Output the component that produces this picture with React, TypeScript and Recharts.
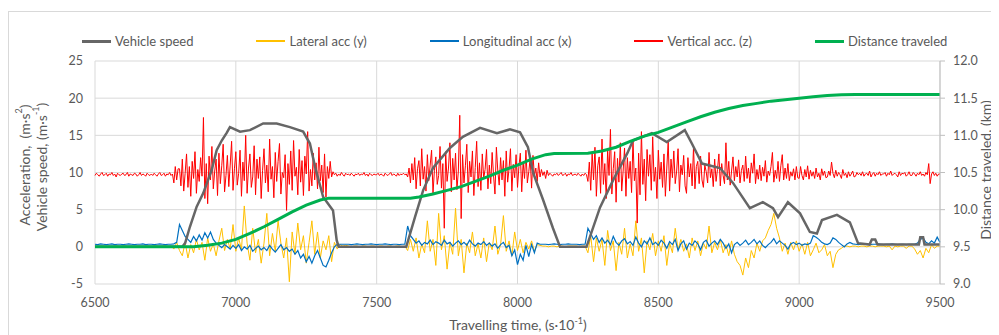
import { CartesianGrid, ComposedChart, Line, XAxis, YAxis } from 'recharts';

// Sensor log: speed, 3-axis acceleration and cumulative distance over time.

const TIME_TICKS = [6500, 7000, 7500, 8000, 8500, 9000, 9500];
const ACC_TICKS = [-5, 0, 5, 10, 15, 20, 25];
const DIST_TICKS = [9, 9.5, 10, 10.5, 11, 11.5, 12];

// all sampled series start at 6500; vertical acc is logged every 5 units,
// lateral / longitudinal every 10
const SAMPLE_START = 6500;

// [time, m/s]
const vehicleSpeed: [number, number][] = [
  [6500, 0], [6810, 0], [6820, 0.5], [6837, 2.7], [6861, 5.4], [6884, 7.2], [6914, 10.3],
  [6932, 13], [6950, 14.3], [6967, 15.3], [6979, 16.1], [7015, 15.5], [7050, 15.7], [7097, 16.6],
  [7145, 16.6], [7192, 16.1], [7239, 15.5], [7263, 13.9], [7281, 10.8], [7310, 6.7], [7345, 4.9],
  [7358, 0.9], [7365, 0], [7605, 0], [7636, 4], [7665, 7.6], [7700, 10.6], [7760, 13.3],
  [7806, 14.8], [7867, 16], [7927, 15.3], [7973, 15.8], [8009, 15.4], [8037, 13.4], [8056, 9.9],
  [8091, 6.3], [8126, 2.5], [8151, 0], [8245, 0], [8293, 5.3], [8340, 9.0], [8390, 12.6],
  [8410, 14.3], [8477, 15.3], [8530, 14.1], [8594, 15.7], [8619, 13.9], [8655, 11.2], [8719, 10.6],
  [8765, 8.6], [8825, 5.2], [8871, 6.0], [8907, 5.2], [8925, 4.0], [8960, 6.0], [9003, 4.5],
  [9038, 2.0], [9063, 1.8], [9081, 3.6], [9134, 4.3], [9180, 3.3], [9209, 0.5], [9250, 0.3],
  [9258, 1.0], [9270, 1.0], [9278, 0.3], [9425, 0.3], [9430, 1.3], [9440, 1.3], [9445, 0.3],
  [9500, 0.3],
];

// [time, km]
const distanceTraveled: [number, number][] = [
  [6500, 9.5], [6850, 9.5], [6900, 9.52], [6950, 9.55], [7000, 9.6], [7050, 9.68], [7100, 9.77],
  [7150, 9.87], [7200, 9.97], [7250, 10.06], [7300, 10.13], [7330, 10.155], [7620, 10.155],
  [7650, 10.17], [7700, 10.21], [7750, 10.26], [7800, 10.31], [7850, 10.38], [7900, 10.45],
  [7950, 10.53], [8000, 10.6], [8050, 10.68], [8100, 10.74], [8130, 10.755], [8250, 10.76],
  [8300, 10.79], [8350, 10.84], [8400, 10.92], [8450, 10.99], [8500, 11.04], [8550, 11.11],
  [8600, 11.18], [8650, 11.25], [8700, 11.31], [8750, 11.36], [8800, 11.4], [8850, 11.43],
  [8900, 11.46], [8950, 11.48], [9000, 11.5], [9050, 11.52], [9100, 11.535], [9150, 11.545],
  [9200, 11.55], [9500, 11.55],
];

// m/s², step 10, one row per 100 time units
const lateralAcc = [
  0.1, 0.0, 0.1, 0.1, 0.0, 0.1, 0.0, 0.1, 0.1, 0.0,
  0.1, 0.1, 0.0, 0.1, 0.0, 0.1, 0.1, 0.0, 0.1, 0.1,
  0.0, 0.1, 0.1, 0.0, 0.1, 0.1, 0.0, 0.1, -0.3, 0.6,
  -0.5, -1.2, 0.6, -1.5, 0.3, -0.8, 1.0, -0.4, 0.6, -1.8,
  1.2, -0.6, 0.4, -1.2, 0.8, 2.5, -0.5, 1.0, -0.3, 3.0,
  -0.6, 1.2, -0.4, 5.5, 0.5, -1.8, 2.5, -0.8, 1.0, -2.2,
  0.5, 4.5, -1.2, 1.8, -0.6, 3.5, 0.5, -1.5, 1.2, -4.7,
  2.0, -1.0, 3.2, -0.4, 1.5, -2.2, 0.6, 3.5, -1.0, 2.0,
  -1.5, 0.8, -0.4, 1.5, -2.0, 0.6, -0.3, 0.3, 0.1, 0.2,
  0.1, 0.0, 0.1, 0.1, 0.0, 0.1, 0.1, 0.0, 0.1, 0.1,
  0.0, 0.1, 0.1, 0.0, 0.1, 0.1, 0.0, 0.1, 0.1, 0.0,
  0.1, -0.5, 1.0, -0.6, 1.2, -1.5, 0.4, -0.8, 3.5, -0.6,
  1.0, -2.5, 4.5, -0.4, 1.5, -3.0, 0.6, -1.0, 5.2, -1.2,
  1.0, -3.5, 0.5, -0.8, 2.0, -1.2, 0.4, -1.5, 1.2, -2.0,
  0.6, -0.4, 2.8, -1.0, 0.3, 4.2, -0.6, 0.8, -1.2, 2.0,
  -0.5, 1.0, -0.8, 0.6, -0.3, 0.8, -0.6, 0.3, 0.2, 0.1,
  0.1, 0.0, 0.1, 0.1, 0.0, 0.1, 0.1, 0.0, 0.1, 0.1,
  0.1, 0.1, 0.0, 0.1, 0.1, -0.8, 1.5, -2.0, 1.2, -0.6,
  1.0, -2.5, 2.2, -0.5, 0.8, -3.2, 0.6, -1.0, 2.5, -1.5,
  0.4, -1.2, 3.5, -0.6, 1.2, -3.5, 0.8, -0.4, 1.8, -1.2,
  0.8, -0.6, 1.5, -2.5, 0.5, -0.8, 2.5, -0.4, 1.0, -0.6,
  0.4, -1.5, 1.2, -0.5, 0.8, -1.2, 0.5, -0.3, 2.8, -0.8,
  0.6, -0.4, 1.0, -0.8, 0.3, -1.2, 0.8, -1.0, -2.0, -2.5,
  -3.8, -1.5, -2.8, -0.5, -1.5, 0.5, -0.6, 0.8, 1.2, 2.2,
  3.0, 4.5, 2.5, 1.2, -0.6, 0.5, -1.0, 0.6, -0.4, 0.8,
  -0.6, 0.4, -1.0, 0.6, -1.2, -0.4, 0.5, -0.8, -0.4, 0.3,
  -1.2, -0.6, -2.8, -1.0, -0.4, -0.2, 0.1, 0.1, 0.0, 0.1,
  0.1, 0.0, 0.1, 0.1, 0.0, 0.1, 0.1, 0.0, 0.1, 0.1,
  0.1, 0.0, 0.1, -0.4, 0.1, 0.0, 0.1, 0.1, -0.2, 0.1,
  0.1, -0.3, -1.0, -0.5, -1.5, -0.2, -0.8, 0.3, -0.2, 0.1,
  0.1,
];

// m/s², step 10
const longitudinalAcc = [
  0.35, 0.3, 0.4, 0.35, 0.3, 0.35, 0.4, 0.3, 0.35, 0.35,
  0.3, 0.35, 0.4, 0.35, 0.3, 0.35, 0.35, 0.4, 0.3, 0.35,
  0.35, 0.3, 0.35, 0.4, 0.35, 0.3, 0.35, 0.35, 0.4, 0.6,
  3.0, 2.2, 1.4, 1.0, 0.6, 1.4, 0.8, 1.6, 0.9, 1.9,
  1.2, 2.0, 1.0, 0.5, 0.2, -0.1, 0.3, 0.0, -0.3, 0.2,
  -0.2, 0.3, -0.5, 0.0, -0.3, 0.2, -0.6, -0.2, 0.1, -0.4,
  -0.1, -0.5, 0.2, -0.3, -0.7, -0.2, 0.3, -0.4, -0.1, -0.6,
  -0.3, -1.0, -0.5, -1.5, -1.0, -2.0, -1.3, -2.2, -1.2, -0.5,
  -1.5, -2.5, -2.7, -1.8, -0.8, 0.0, 0.35, 0.35, 0.35, 0.35,
  0.35, 0.3, 0.35, 0.4, 0.35, 0.3, 0.35, 0.35, 0.4, 0.35,
  0.3, 0.35, 0.35, 0.4, 0.35, 0.3, 0.35, 0.35, 0.3, 0.35,
  0.35, 2.8, 1.5, 1.0, 0.5, 0.8, 0.2, 0.6, 0.4, 0.9,
  0.3, 0.7, 0.5, 0.2, 0.9, 0.4, 0.6, 0.1, 0.5, 0.8,
  0.3, 0.6, 0.2, 0.9, 0.4, 0.1, 0.5, 0.3, 0.7, 0.2,
  0.5, 0.1, 0.4, -0.2, 0.3, 0.6, -0.1, 0.2, -1.2, -0.4,
  -2.4, -1.0, -1.8, 0.2, -1.3, 0.3, -0.8, 0.5, 0.35, 0.35,
  0.35, 0.3, 0.35, 0.4, 0.35, 0.3, 0.35, 0.35, 0.4, 0.35,
  0.35, 0.35, 0.3, 0.35, 0.35, 2.5, 1.8, 1.0, 1.5, 0.6,
  1.2, 0.5, 0.9, 0.3, 1.4, 0.6, 0.2, 0.8, 1.1, 0.4,
  0.7, 0.2, 1.3, 0.5, 0.0, 0.8, 0.4, 1.2, 0.3, 0.6,
  0.2, 0.9, 0.5, -0.2, 0.7, 0.3, 1.0, -0.5, 0.4, 0.8,
  -0.3, 0.5, 0.2, 0.8, 0.4, -0.4, 0.6, 0.9, 0.1, 0.5,
  0.8, 0.3, 1.0, 0.5, -0.2, 0.4, -0.8, 0.3, 0.6, 0.2,
  0.5, 0.9, 0.3, 0.6, 1.0, 0.4, 0.8, 0.2, -0.1, 0.3,
  0.6, 1.1, 0.4, 0.8, 0.5, 0.2, -0.3, 0.4, 0.6, 0.3,
  0.5, 0.2, 0.4, 0.3, 0.5, 1.5, 1.3, 1.0, 0.6, 0.4,
  0.3, 0.5, 1.2, 1.0, 0.6, 0.3, 0.0, 0.4, 0.6, 0.4,
  0.35, 0.3, 0.35, 0.4, 0.35, 0.3, 0.35, 0.35, 0.4, 0.35,
  0.3, 0.35, 0.35, 0.4, 0.35, 0.3, 0.35, 0.35, 0.3, 0.35,
  0.35, 0.35, 0.5, 1.0, 1.2, 0.6, 0.4, 0.8, 0.5, 1.3,
  0.6,
];

// m/s², step 5, one row per 100 time units
const verticalAcc = [
  9.6, 9.9, 9.7, 9.5, 9.8, 10.0, 9.6, 9.7, 9.9, 9.5, 9.8, 9.7, 10.0, 9.6, 9.8, 9.4, 9.9, 9.7, 9.6, 9.8,
  9.9, 9.6, 9.7, 10.0, 9.5, 9.8, 9.7, 9.6, 9.9, 9.8, 9.5, 9.7, 10.0, 9.6, 9.8, 9.7, 9.5, 9.9, 9.7, 9.6,
  9.8, 9.6, 9.9, 9.7, 9.5, 9.8, 10.0, 9.6, 9.7, 9.9, 9.5, 9.8, 9.7, 10.0, 9.6, 9.8, 8.6, 10.8, 9.0, 10.5,
  10.5, 8.2, 11.8, 7.5, 9.9, 12.5, 8.0, 10.8, 6.8, 11.5, 9.2, 12.8, 7.2, 10.4, 8.8, 12.0, 9.5, 17.4, 6.5, 11.2,
  5.8, 12.2, 9.0, 13.5, 7.8, 10.2, 11.8, 6.9, 12.6, 8.5, 10.9, 13.8, 7.4, 9.6, 12.3, 8.1, 11.0, 14.2, 7.6, 10.5,
  12.8, 8.3, 9.9, 13.0, 6.8, 11.4, 8.9, 15.0, 7.2, 10.6, 12.5, 8.0, 9.4, 13.6, 7.0, 11.8, 9.2, 12.1, 6.5, 10.3,
  13.2, 8.6, 11.0, 7.4, 14.5, 9.1, 10.8, 6.6, 12.7, 8.8, 11.5, 13.9, 7.1, 10.0, 9.3, 12.4, 4.9, 11.2, 8.4, 12.9,
  7.6, 14.3, 9.5, 10.7, 7.0, 13.1, 8.7, 11.6, 6.9, 12.2, 9.8, 15.5, 7.5, 10.4, 8.2, 12.6, 9.0, 11.3, 7.8, 13.4,
  8.9, 11.0, 7.3, 12.5, 6.7, 10.8, 9.2, 11.5, 9.4, 10.1, 9.7, 9.9, 9.5, 9.8, 9.6, 10.0, 9.7, 9.5, 9.9, 9.7,
  9.8, 9.6, 9.9, 9.7, 9.5, 9.8, 9.7, 9.9, 9.6, 9.8, 9.7, 10.0, 9.6, 9.8, 9.5, 9.9, 9.7, 9.6, 9.8, 9.7,
  9.7, 9.9, 9.6, 9.8, 9.7, 9.5, 9.9, 9.7, 9.6, 9.8, 10.0, 9.6, 9.8, 9.7, 9.5, 9.9, 9.6, 9.8, 9.7, 9.9,
  9.7, 9.8, 9.4, 10.6, 8.6, 11.2, 9.0, 12.0, 7.8, 10.5, 11.6, 8.2, 13.2, 9.1, 10.8, 7.5, 12.4, 8.9, 11.0, 13.0,
  7.2, 10.3, 12.1, 8.4, 9.6, 13.5, 7.9, 11.2, 2.5, 12.8, 8.8, 10.6, 14.0, 7.4, 11.9, 9.0, 12.6, 7.7, 10.2, 17.7,
  3.8, 12.4, 8.6, 10.9, 13.8, 7.3, 11.5, 9.4, 12.9, 6.9, 10.7, 14.2, 8.1, 11.3, 7.6, 12.5, 9.2, 10.4, 13.1, 7.8,
  11.0, 8.5, 12.7, 9.6, 7.1, 13.4, 10.2, 8.3, 12.0, 9.0, 11.6, 6.8, 12.9, 8.7, 10.5, 13.2, 7.5, 11.1, 9.3, 12.4,
  8.0, 10.8, 12.6, 7.4, 11.4, 9.2, 13.0, 8.6, 10.1, 11.9, 7.9, 12.3, 9.5, 10.6, 8.8, 11.3, 9.4, 10.4, 9.6, 10.1,
  9.2, 10.3, 9.6, 9.9, 9.7, 9.5, 9.8, 9.7, 9.9, 9.6, 9.8, 10.0, 9.6, 9.7, 9.9, 9.5, 9.8, 9.7, 10.0, 9.6,
  9.7, 9.8, 9.6, 9.9, 9.7, 9.5, 9.8, 9.6, 9.9, 9.7, 8.8, 11.4, 7.6, 12.6, 9.0, 13.4, 6.8, 10.9, 12.1, 7.2,
  14.5, 8.4, 11.2, 6.5, 13.0, 9.6, 15.8, 7.1, 10.5, 12.8, 6.0, 11.9, 8.7, 14.0, 7.5, 10.2, 13.3, 6.8, 12.0, 9.2,
  11.5, 7.3, 14.4, 8.9, 10.6, 3.2, 12.6, 7.0, 15.5, 8.4, 11.8, 6.2, 13.1, 9.5, 12.4, 7.6, 14.8, 8.8, 10.7, 6.5,
  13.0, 9.1, 11.4, 8.0, 12.5, 6.8, 10.6, 14.2, 7.5, 11.8, 9.3, 12.9, 8.5, 10.2, 13.2, 7.4, 11.0, 9.7, 12.3, 8.2,
  7.2, 12.0, 9.4, 11.2, 8.2, 13.5, 7.8, 10.8, 11.5, 8.5, 12.2, 9.0, 8.0, 11.0, 10.1, 8.6, 12.7, 9.3, 10.5, 8.1,
  11.8, 8.8, 10.4, 12.5, 8.2, 11.2, 9.6, 8.5, 14.0, 9.0, 11.5, 8.3, 10.2, 12.1, 8.9, 10.8, 9.4, 11.7, 8.6, 10.3,
  11.0, 8.8, 12.2, 9.2, 10.6, 8.6, 11.3, 9.9, 12.5, 8.5, 10.4, 9.1, 11.0, 8.9, 10.7, 9.5, 11.6, 8.7, 10.2, 9.6,
  10.8, 12.7, 8.7, 10.3, 9.2, 11.5, 8.8, 10.9, 12.4, 9.0, 10.6, 9.2, 11.2, 8.9, 10.1, 9.5, 10.5, 9.0, 10.8, 9.3,
  9.2, 10.8, 9.6, 9.0, 10.4, 9.4, 10.9, 9.1, 10.3, 9.5, 10.1, 9.2, 10.6, 9.4, 9.9, 9.0, 10.5, 9.6, 10.2, 9.3,
  9.4, 10.2, 9.6, 11.4, 9.9, 9.3, 10.3, 9.5, 10.0, 9.7, 9.2, 10.4, 9.6, 9.9, 9.3, 10.1, 9.5, 9.8, 10.2, 9.4,
  9.5, 10.0, 9.7, 9.9, 9.6, 10.1, 9.5, 9.8, 9.9, 9.6, 10.2, 9.4, 9.8, 10.0, 9.5, 9.9, 9.7, 10.1, 9.6, 9.8,
  9.8, 10.0, 9.5, 9.9, 9.7, 10.2, 9.6, 9.8, 9.9, 9.7, 9.4, 10.1, 9.6, 9.9, 9.8, 10.0, 9.5, 9.7, 10.1, 9.6,
  9.6, 10.0, 9.8, 9.5, 9.9, 9.7, 10.1, 9.6, 9.8, 9.5, 10.0, 9.7, 11.2, 8.5, 9.8, 10.1, 9.6, 9.9, 9.5, 9.8,
  9.8,
];

const LEGEND = [
  { name: 'Vehicle speed', color: '#666666', width: 3 },
  { name: 'Lateral acc (y)', color: '#ffc000', width: 1.5 },
  { name: 'Longitudinal acc (x)', color: '#0070c0', width: 1.5 },
  { name: 'Vertical acc. (z)', color: '#ff0000', width: 1.5 },
  { name: 'Distance traveled', color: '#00b050', width: 3 },
];

const FONT = 'Lato, "Open Sans", sans-serif';
const INK = '#595959';
const GRID = '#d9d9d9';

type Pt = { t: number; v: number };

function sampled(values: number[], step: number): Pt[] {
  return values.map((v, i) => ({ t: SAMPLE_START + i * step, v }));
}

function pairs(list: [number, number][]): Pt[] {
  return list.map(([t, v]) => ({ t, v }));
}

const tick = { fill: INK, fontSize: 12.5, fontFamily: FONT };

function Sup({ children }: { children: React.ReactNode }) {
  return <span style={{ fontSize: 9, verticalAlign: 'super', lineHeight: 0 }}>{children}</span>;
}

// vertical text whose layout box stays narrow
function Rotated({ x, y, children }: { x: number; y: number; children: React.ReactNode }) {
  return (
    <div
      style={{
        position: 'absolute',
        left: x,
        top: y,
        transform: 'translate(-50%, -50%) rotate(180deg)',
        writingMode: 'vertical-rl',
        whiteSpace: 'nowrap',
        lineHeight: 1,
        fontSize: 14,
        color: INK,
      }}
    >
      {children}
    </div>
  );
}

export default function App() {
  // the wrapper fills the whole 999x335 window (8px body margin on top/left)
  return (
    <div style={{ position: 'relative', width: 991, height: 327, overflow: 'hidden', fontFamily: FONT }}>
      <style>{'html { overflow: hidden; }'}</style>
      <div
        style={{
          position: 'absolute',
          left: 0,
          top: 3,
          width: 991,
          height: 330,
          borderTop: `1px solid ${GRID}`,
          borderLeft: `1px solid ${GRID}`,
          boxSizing: 'border-box',
        }}
      />
      <div
        style={{
          position: 'absolute',
          left: 74,
          top: 33,
          display: 'flex',
          alignItems: 'center',
          gap: 63,
          transform: 'translateY(-50%)',
          fontSize: 13,
          color: INK,
          whiteSpace: 'nowrap',
        }}
      >
        {LEGEND.map((l) => (
          <div key={l.name} style={{ display: 'flex', alignItems: 'center' }}>
            <span style={{ display: 'inline-block', width: 29, height: l.width, background: l.color, marginRight: 4 }} />
            <span>{l.name}</span>
          </div>
        ))}
      </div>

      <ComposedChart width={983} height={319} margin={{ top: 53, right: 0, bottom: 13, left: 0 }}>
        <CartesianGrid yAxisId="left" stroke={GRID} />
        <XAxis
          type="number"
          dataKey="t"
          domain={[6500, 9500]}
          ticks={TIME_TICKS}
          allowDuplicatedCategory={false}
          tick={tick}
          axisLine={false}
          tickLine={false}
          tickSize={6}
          tickMargin={8}
          height={30}
        />
        <YAxis
          yAxisId="left"
          domain={[-5, 25]}
          ticks={ACC_TICKS}
          tick={tick}
          axisLine={false}
          tickLine={false}
          tickSize={6}
          tickMargin={6}
          width={87}
        />
        <YAxis
          yAxisId="right"
          orientation="right"
          domain={[9, 12]}
          ticks={DIST_TICKS}
          tickFormatter={(v: number) => v.toFixed(1)}
          tick={tick}
          axisLine={{ stroke: '#bfbfbf' }}
          tickLine={{ stroke: '#bfbfbf' }}
          tickSize={5}
          tickMargin={8}
          width={51}
        />
        <Line yAxisId="left" data={sampled(lateralAcc, 10)} dataKey="v" stroke="#ffc000" strokeWidth={1} dot={false} isAnimationActive={false} />
        <Line yAxisId="left" data={sampled(longitudinalAcc, 10)} dataKey="v" stroke="#0070c0" strokeWidth={1.2} dot={false} isAnimationActive={false} />
        <Line yAxisId="left" data={sampled(verticalAcc, 5)} dataKey="v" stroke="#ff0000" strokeWidth={1} dot={false} isAnimationActive={false} />
        <Line yAxisId="left" data={pairs(vehicleSpeed)} dataKey="v" stroke="#666666" strokeWidth={2.5} dot={false} isAnimationActive={false} />
        <Line yAxisId="right" data={pairs(distanceTraveled)} dataKey="v" stroke="#00b050" strokeWidth={3} dot={false} isAnimationActive={false} />
      </ComposedChart>

      <Rotated x={17} y={157}>
        Acceleration,&nbsp; (m·s<Sup>2</Sup>)
      </Rotated>
      <Rotated x={34} y={159}>
        Vehicle speed, (m·s<Sup>-1</Sup>)
      </Rotated>
      <Rotated x={978} y={162}>
        Distance traveled, (km)
      </Rotated>
      <div
        style={{
          position: 'absolute',
          left: 510,
          top: 317,
          transform: 'translate(-50%, -50%)',
          whiteSpace: 'nowrap',
          lineHeight: 1,
          fontSize: 14,
          color: INK,
        }}
      >
        Travelling time, (s·10<Sup>-1</Sup>)
      </div>
    </div>
  );
}
